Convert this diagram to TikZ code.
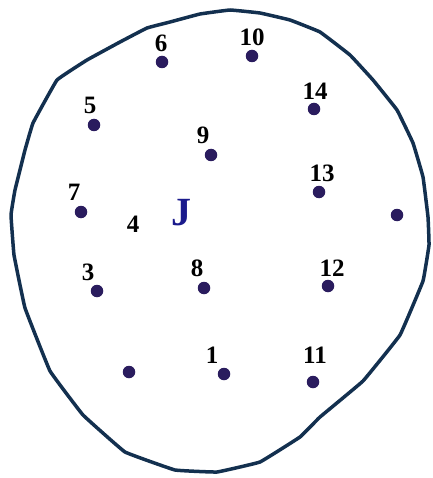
\documentclass[tikz,border=0pt]{standalone}
\usepackage{fontspec}
\setmainfont{Liberation Serif}
\definecolor{outl}{HTML}{13304F}
\definecolor{dotc}{HTML}{2A1C5E}
\definecolor{jblue}{HTML}{1A1A8C}
\tikzset{
  elec/.style={circle, fill=dotc, draw=none, minimum size=12.5pt, inner sep=0pt},
  lab/.style={font=\fontsize{25}{25}\selectfont\bfseries, inner sep=0pt, text=black},
  jlab/.style={font=\fontsize{40}{40}\selectfont\bfseries, inner sep=0pt, text=jblue},
  headline/.style={draw=outl, line width=3.5pt, line join=round}
}
\begin{document}
\begin{tikzpicture}[x=1pt,y=-1pt]
\useasboundingbox (0,0) rectangle (432,478);
% head outline
\draw[headline] plot[smooth cycle, tension=0.12] coordinates {
 (230,10) (260,13) (290,20) (320,32) (350,55) (373,80) (397,110) (413,143)
 (423,177) (428,217) (429,245) (423,281) (400,335) (363,381) (320,417)
 (300,437) (260,462) (217,472) (175,470) (125,452) (83,415) (50,371)
 (25,308) (14,255) (11,215) (15,190) (25,150) (33,123) (57,80) (87,60)
 (120,42) (147,28) (170,22) (200,14)};
% electrodes
\node[elec] (e6)  at (162,62) {};
\node[elec] (e10) at (252,56) {};
\node[elec] (e14) at (314,109) {};
\node[elec] (e5)  at (94,125) {};
\node[elec] (e9)  at (211,155) {};
\node[elec] (e13) at (319,192) {};
\node[elec] (e7)  at (81,212) {};
\node[elec] (er)  at (397,215) {};
\node[elec] (e3)  at (97,291) {};
\node[elec] (e8)  at (204,288) {};
\node[elec] (e12) at (328,286) {};
\node[elec] (el)  at (129,372) {};
\node[elec] (e1)  at (224,374) {};
\node[elec] (e11) at (313,382) {};
% labels
\node[lab] (l6)  at (161,43) {6};
\node[lab] (l10) at (252,37) {10};
\node[lab] (l14) at (315,91) {14};
\node[lab] (l5)  at (90,105) {5};
\node[lab] (l9)  at (203,135) {9};
\node[lab] (l13) at (322,173) {13};
\node[lab] (l7)  at (74,192) {7};
\node[lab] (l4)  at (133,224) {4};
\node[lab] (l3)  at (88,272) {3};
\node[lab] (l8)  at (197,268) {8};
\node[lab] (l12) at (332,268) {12};
\node[lab] (l1)  at (212,355) {1};
\node[lab] (l11) at (315,355) {11};
\node[jlab] (J) at (181,213) {J};
\end{tikzpicture}
\end{document}
